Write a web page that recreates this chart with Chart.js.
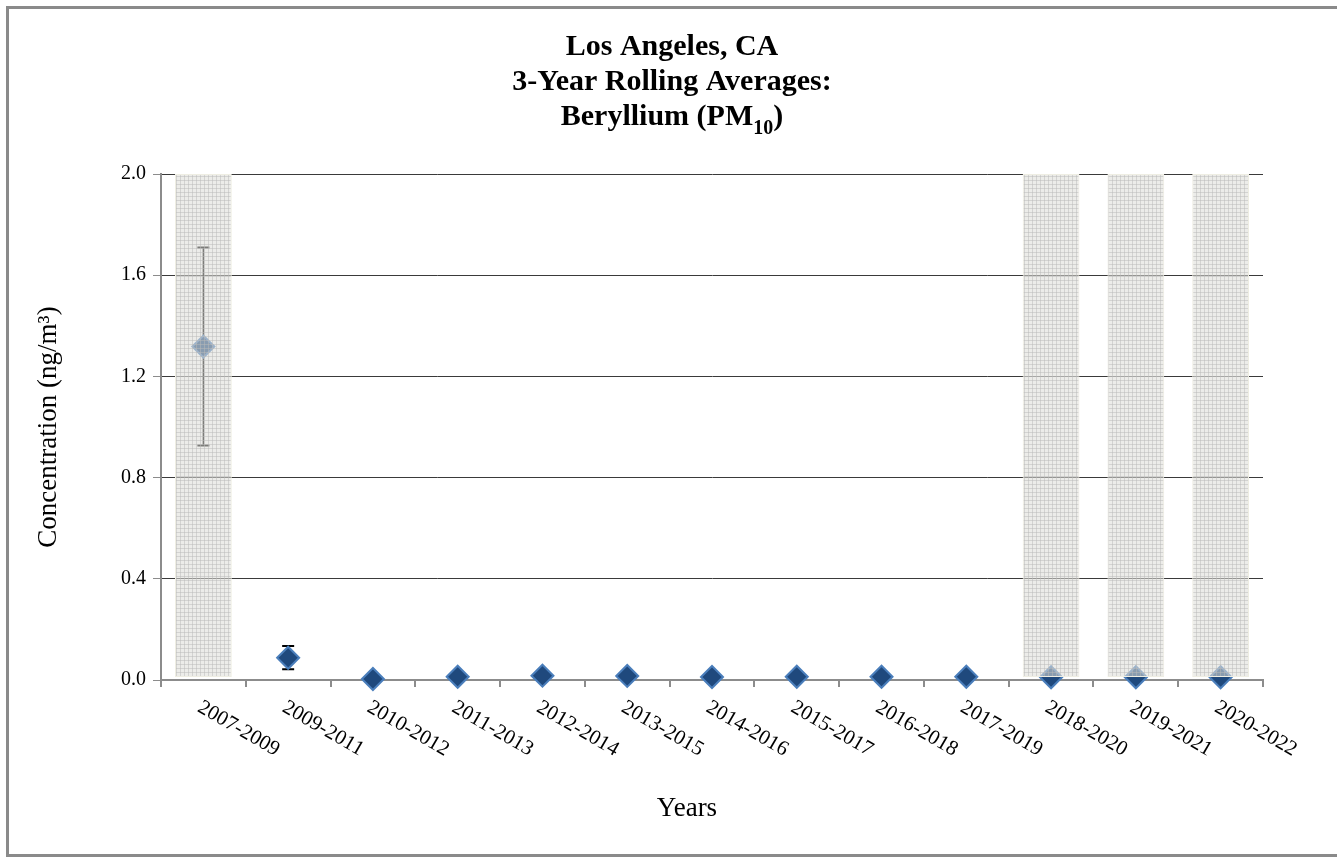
<!DOCTYPE html>
<html>
<head>
<meta charset="utf-8">
<title>Los Angeles, CA - Beryllium (PM10)</title>
<script src="https://cdn.jsdelivr.net/npm/chart.js@4.4.1/dist/chart.umd.min.js"></script>
<style>
  html, body { margin: 0; padding: 0; background: #fff; }
  #wrap { position: relative; width: 1337px; height: 857px; }
</style>
</head>
<body>
<div id="wrap"><canvas id="chart"></canvas></div>
<script>
// datos
const years = ['2007-2009', '2009-2011', '2010-2012', '2011-2013', '2012-2014', '2013-2015', '2014-2016',
               '2015-2017', '2016-2018', '2017-2019', '2018-2020', '2019-2021', '2020-2022'];
const means = [1.318, 0.088, 0.004, 0.013, 0.017, 0.016, 0.012, 0.013, 0.013, 0.013, 0.011, 0.011, 0.011];
const errLow = [0.927, 0.042, null, null, null, null, null, null, null, null, null, null, null];
const errHigh = [1.709, 0.134, null, null, null, null, null, null, null, null, null, null, null];
// periodos sombreados (datos incompletos)
const flagged = [true, false, false, false, false, false, false, false, false, false, true, true, true];
const shadeRange = [0.012, 2.0];
const yTicks = [0.0, 0.4, 0.8, 1.2, 1.6, 2.0];

const titleLines = ['Los Angeles, CA', '3-Year Rolling Averages:'];
const serif = '"Liberation Serif", "Times New Roman", serif';

// textura gris para las columnas sombreadas
function makePattern() {
    const c = document.createElement('canvas');
    c.width = 4; c.height = 4;
    const p = c.getContext('2d');
    p.fillStyle = 'rgba(222,222,216,0.56)';
    p.fillRect(0, 0, 4, 4);
    p.fillStyle = 'rgba(185,185,185,0.5)';
    p.fillRect(0, 0, 4, 1);
    p.fillRect(0, 0, 1, 4);
    return p.createPattern(c, 'repeat');
}

const errorBars = {
    id: 'errorBars',
    beforeDatasetsDraw(chart) {
        const { ctx, scales: { x, y } } = chart;
        ctx.save();
        ctx.strokeStyle = '#000';
        means.forEach((m, i) => {
            if (errLow[i] == null) return;
            const px = x.getPixelForValue(i);
            const top = y.getPixelForValue(errHigh[i]);
            const bot = y.getPixelForValue(errLow[i]);
            ctx.lineWidth = 1.5;
            ctx.beginPath();
            ctx.moveTo(px, top); ctx.lineTo(px, bot);
            ctx.stroke();
            ctx.lineWidth = 2;
            ctx.beginPath();
            ctx.moveTo(px - 6, top); ctx.lineTo(px + 6, top);
            ctx.moveTo(px - 6, bot); ctx.lineTo(px + 6, bot);
            ctx.stroke();
        });
        ctx.restore();
    }
};

const decorations = {
    id: 'decorations',
    afterDraw(chart) {
        const { ctx, chartArea, scales: { x } } = chart;
        ctx.save();
        // marco
        ctx.strokeStyle = '#8a8a8a';
        ctx.lineWidth = 3;
        ctx.strokeRect(7.5, 7.5, 1345, 848);

        // titulo
        const cx = 672;
        ctx.fillStyle = '#000';
        ctx.textAlign = 'center';
        ctx.textBaseline = 'alphabetic';
        ctx.font = 'bold 30px ' + serif;
        ctx.fillText(titleLines[0], cx, 55);
        ctx.fillText(titleLines[1], cx, 90);
        // tercera linea con subindice
        const main = 'Beryllium (PM', sub = '10', close = ')';
        const w1 = ctx.measureText(main).width, w3 = ctx.measureText(close).width;
        ctx.font = 'bold 20px ' + serif;
        const w2 = ctx.measureText(sub).width;
        const sx = cx - (w1 + w2 + w3) / 2;
        ctx.textAlign = 'left';
        ctx.font = 'bold 30px ' + serif;
        ctx.fillText(main, sx, 125);
        ctx.font = 'bold 20px ' + serif;
        ctx.fillText(sub, sx + w1, 134);
        ctx.font = 'bold 30px ' + serif;
        ctx.fillText(close, sx + w1 + w2, 125);

        // etiquetas del eje x giradas
        ctx.font = '21px ' + serif;
        ctx.textBaseline = 'top';
        chart.data.labels.forEach((lab, i) => {
            const px = x.getPixelForValue(i);
            ctx.save();
            ctx.translate(px + 1, chartArea.bottom + 17);
            ctx.rotate(Math.PI / 6);
            ctx.fillText(lab, 0, 0);
            ctx.restore();
        });

        // titulo eje x
        ctx.textAlign = 'center';
        ctx.textBaseline = 'alphabetic';
        ctx.font = '27px ' + serif;
        ctx.fillText('Years', 687, 816);
        ctx.restore();
    }
};

const ctx = document.getElementById('chart').getContext('2d');
new Chart(ctx, {
    data: {
        labels: years,
        datasets: [{
            type: 'bar',
            label: 'Incomplete',
            data: flagged.map(f => f ? shadeRange : null),
            backgroundColor: makePattern(),
            borderColor: '#efeee3',
            borderWidth: 1,
            borderSkipped: false,
            barPercentage: 0.67,
            categoryPercentage: 1,
            order: 0
        }, {
            type: 'line',
            label: 'Beryllium',
            data: means,
            showLine: false,
            pointStyle: 'rectRot',
            pointRadius: 11,
            pointBackgroundColor: '#1f497d',
            pointBorderColor: '#4a7ebb',
            pointBorderWidth: 2,
            clip: false,
            order: 1
        }]
    },
    options: {
        responsive: true,
        maintainAspectRatio: false,
        devicePixelRatio: 1,
        animation: false,
        events: [],
        layout: { padding: { top: 174, right: 74, bottom: 0, left: 0 } },
        plugins: {
            legend: { display: false },
            tooltip: { enabled: false },
            title: { display: false }
        },
        scales: {
            x: {
                type: 'category',
                offset: true,
                afterFit(scale) { scale.height = 177; },
                border: { display: true, color: '#8c8c8c', width: 2 },
                grid: {
                    offset: true,
                    drawOnChartArea: false,
                    drawTicks: true,
                    tickLength: 7,
                    color: '#8c8c8c',
                    lineWidth: 2
                },
                ticks: { display: false }
            },
            y: {
                min: 0,
                max: 2,
                afterFit(scale) { scale.width = 161; },
                afterBuildTicks(scale) { scale.ticks = yTicks.map(v => ({ value: v })); },
                border: { display: true, color: '#8c8c8c', width: 2 },
                grid: {
                    color: c => c.tick && c.tick.value === 0 ? 'rgba(0,0,0,0)' : '#3a3a3a',
                    lineWidth: 1,
                    borderDash: [3, 2],
                    tickColor: '#8c8c8c',
                    tickBorderDash: [],
                    tickLength: 8
                },
                ticks: {
                    padding: 7,
                    color: '#000',
                    font: { family: serif, size: 20 },
                    callback: v => Number(v).toFixed(1)
                },
                title: {
                    display: true,
                    text: 'Concentration (ng/m³)',
                    color: '#000',
                    font: { family: serif, size: 27 },
                    padding: { top: 33, bottom: 0 }
                }
            }
        }
    },
    plugins: [errorBars, decorations]
});
</script>
</body>
</html>
